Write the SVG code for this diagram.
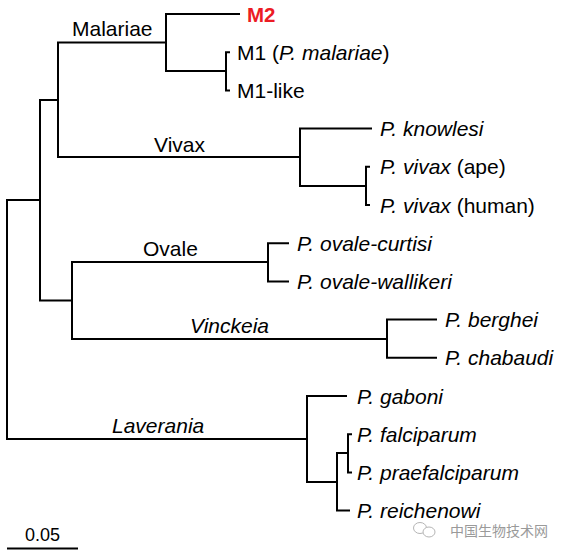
<svg xmlns="http://www.w3.org/2000/svg" width="564" height="557" viewBox="0 0 564 557">
<style>
.br{fill:none;stroke:#000;stroke-width:2;stroke-linejoin:miter}
text{font-family:"Liberation Sans",Arial,sans-serif;font-size:21px;fill:#000}
.i{font-style:italic}
.m2{font-weight:bold;fill:#ec1c24;font-size:20.5px}
.wm{font-family:"Noto Sans CJK SC","Liberation Sans",sans-serif;font-size:14px;fill:#9a9a9a}
</style>
<rect width="564" height="557" fill="#fff"/>
<g id="connectors">
<path class="br" d="M40,200 H7 V439 H307"/>
<path class="br" d="M58,100 H40 V300.5 H72"/>
<path class="br" d="M166,42.5 H58 V157 H300"/>
<path class="br" d="M240,14 H166 V71 H226"/>
<path class="br" d="M230,52.2 H226 V90.4 H230"/>
<path class="br" d="M372,128.6 H300 V186 H366"/>
<path class="br" d="M370,166.8 H366 V205 H370"/>
<path class="br" d="M268,262 H72 V339 H387"/>
<path class="br" d="M289,243.2 H268 V281.4 H289"/>
<path class="br" d="M437,319.6 H387 V357.8 H437"/>
<path class="br" d="M347,396 H307 V482 H337"/>
<path class="br" d="M348,453 H337 V510.6 H350"/>
<path class="br" d="M352,434.2 H348 V472.4 H352"/>
</g>
<g id="clade-labels">
<text x="72" y="36">Malariae</text>
<text x="154" y="152">Vivax</text>
<text x="143" y="256">Ovale</text>
<text class="i" x="190" y="333">Vinckeia</text>
<text class="i" x="112" y="433">Laverania</text>
</g>
<g id="leaf-M2"><text class="m2" x="247" y="21.5">M2</text></g>
<g id="leaf-M1"><text x="237" y="59.7">M1 (<tspan class="i">P. malariae</tspan>)</text></g>
<g id="leaf-M1like"><text x="237" y="97.9">M1-like</text></g>
<g id="leaf-knowlesi"><text class="i" x="380" y="136.1">P. knowlesi</text></g>
<g id="leaf-vivax-ape"><text x="380" y="174.3"><tspan class="i">P. vivax</tspan> (ape)</text></g>
<g id="leaf-vivax-human"><text x="380" y="212.5"><tspan class="i">P. vivax</tspan> (human)</text></g>
<g id="leaf-ovale-curtisi"><text class="i" x="297" y="250.7">P. ovale-curtisi</text></g>
<g id="leaf-ovale-wallikeri"><text class="i" x="297" y="288.9">P. ovale-wallikeri</text></g>
<g id="leaf-berghei"><text class="i" x="445" y="327.1">P. berghei</text></g>
<g id="leaf-chabaudi"><text class="i" x="445" y="365.3">P. chabaudi</text></g>
<g id="leaf-gaboni"><text class="i" x="357" y="403.5">P. gaboni</text></g>
<g id="leaf-falciparum"><text class="i" x="357" y="441.7">P. falciparum</text></g>
<g id="leaf-praefalciparum"><text class="i" x="357" y="479.9">P. praefalciparum</text></g>
<g id="leaf-reichenowi"><text class="i" x="357" y="518.1">P. reichenowi</text></g>
<g id="scale-bar">
<line x1="7" y1="548.5" x2="78" y2="548.5" stroke="#000" stroke-width="2"/>
<text x="42.5" y="541" text-anchor="middle" style="font-size:18px">0.05</text>
</g>
<g id="watermark">
<ellipse cx="420" cy="528" rx="6.5" ry="5.5" fill="none" stroke="#b5b5b5" stroke-width="1"/>
<ellipse cx="429" cy="532" rx="6" ry="5" fill="#fff" stroke="#b5b5b5" stroke-width="1"/>
<text class="wm" x="450" y="536">中国生物技术网</text>
</g>
</svg>
